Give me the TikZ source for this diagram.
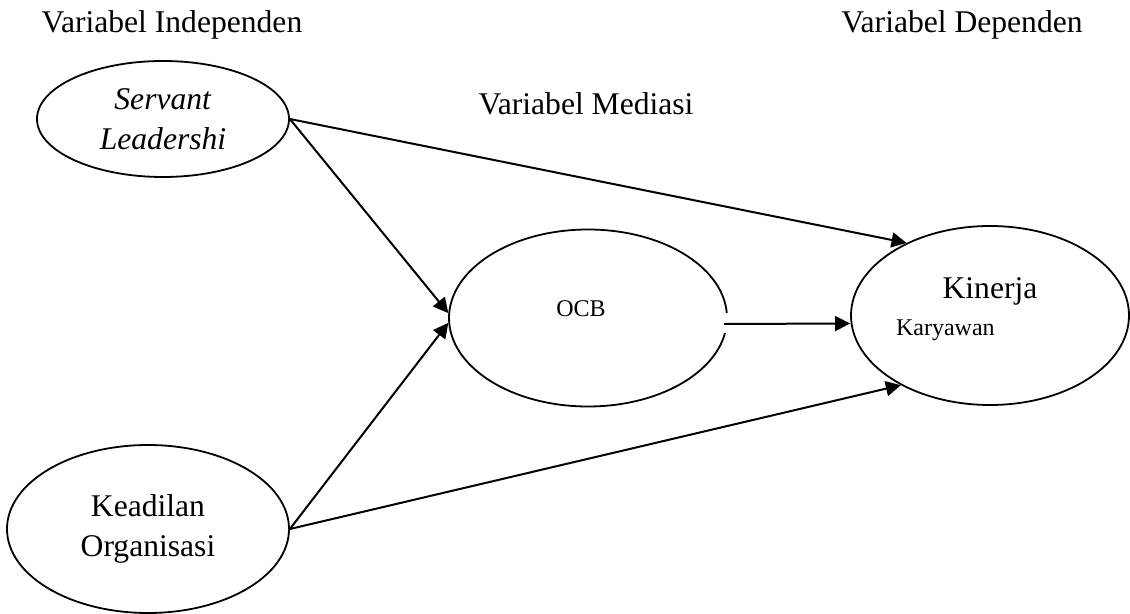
\documentclass[tikz,border=0pt]{standalone}
\usepackage{fontspec}
\setmainfont{Liberation Serif}
\usetikzlibrary{shapes.geometric, arrows.meta}
\tikzstyle{latent} = [ellipse, draw=black, line width=0.9pt, inner sep=0pt, align=center, font=\fontsize{15.8}{20}\selectfont]
\tikzstyle{heading} = [anchor=base, font=\fontsize{15.8}{19}\selectfont]
\tikzstyle{inlabel} = [anchor=base, font=\fontsize{12}{14}\selectfont]
\tikzstyle{arrow} = [line width=1pt,->,>={Triangle[length=7.5pt,width=7.5pt]}]
\begin{document}
\begin{tikzpicture}[x=0.5pt, y=-0.5pt, node distance=201pt]
\useasboundingbox (0,0) rectangle (1130,614);
	\node (indep) [heading] at (172,33) {Variabel Independen};
	\node (dep) [heading] at (962,33) {Variabel Dependen};
	\node (med) [heading] at (586,115) {Variabel Mediasi};

	\node (servant) [latent, minimum width=126pt, minimum height=58pt] at (163,119) {\textit{Servant}\\\textit{Leadershi}};
	\node (keadilan) [latent, below of=servant, node distance=205pt, xshift=-7.5pt, minimum width=141pt, minimum height=84pt] {Keadilan\\Organisasi};

	\node (ocb) [latent, right of=servant, xshift=11.5pt, yshift=-99.5pt, minimum width=139pt, minimum height=88.5pt] {};
	\node (ocbtext) [inlabel] at (581,317) {OCB};

	\node (kinerja) [latent, right of=ocb, yshift=1.25pt, minimum width=139pt, minimum height=89.5pt] {};
	\node (kinerjatext) [heading] at (990,299) {Kinerja};
	\node (karyawan) [inlabel, anchor=base west] at (889,336) {Karyawan};

	% gap in the OCB border round the arrow
	\fill [white] (721,313) rectangle (733,333);

		\draw [arrow] (servant.east) -- (ocb.178);
		\draw [arrow] (servant.east) -- (kinerja.139);
		\draw [arrow] (keadilan.east) -- (ocb.182);
		\draw [arrow] (keadilan.east) -- (kinerja.218);
		\draw [arrow] ([xshift=-2pt,yshift=-3pt]ocb.east) -- ([yshift=-4pt]kinerja.west);
\end{tikzpicture}
\end{document}
